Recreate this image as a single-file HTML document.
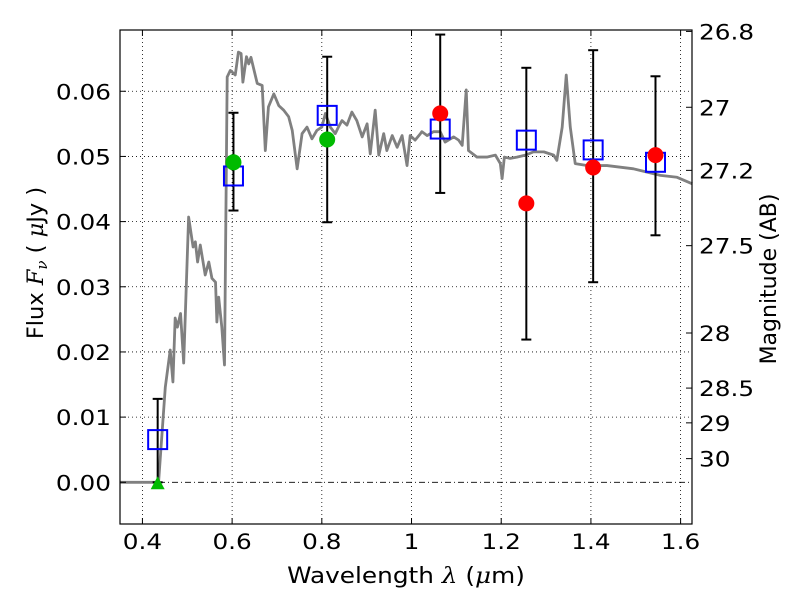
<!DOCTYPE html>
<html><head><meta charset="utf-8"><style>
body{margin:0;background:#fff}
svg{display:block;font-family:"DejaVu Sans","Liberation Sans",sans-serif}
</style></head><body>
<svg id="c" width="800" height="600"></svg>
<script>
const xTicks=[0.4,0.6,0.8,1.0,1.2,1.4,1.6];
const xTickLabels=["0.4","0.6","0.8","1","1.2","1.4","1.6"];
const yTicks=[0,0.01,0.02,0.03,0.04,0.05,0.06];
const yTickLabels=["0.00","0.01","0.02","0.03","0.04","0.05","0.06"];
const magTicks=[26.8,27,27.2,27.5,28,28.5,29,30];
const magTickLabels=["26.8","27","27.2","27.5","28","28.5","29","30"];
const specLam=[0.35,0.436,0.451,0.462,0.468,0.473,0.478,0.485,0.492,0.503,0.513,0.518,0.523,0.529,0.540,0.548,0.555,0.563,0.566,0.570,0.577,0.583,0.589,0.596,0.607,0.614,0.620,0.624,0.632,0.637,0.642,0.656,0.667,0.674,0.681,0.693,0.704,0.715,0.726,0.734,0.745,0.756,0.767,0.778,0.789,0.800,0.808,0.819,0.830,0.837,0.845,0.856,0.867,0.878,0.890,0.901,0.908,0.919,0.927,0.938,0.945,0.957,0.968,0.979,0.990,0.997,1.008,1.020,1.023,1.035,1.049,1.064,1.075,1.094,1.105,1.113,1.122,1.127,1.146,1.168,1.187,1.198,1.202,1.207,1.220,1.235,1.254,1.272,1.295,1.317,1.324,1.336,1.345,1.354,1.365,1.391,1.436,1.495,1.555,1.592,1.626];
const specFlux=[0,0,0.0146,0.0203,0.0154,0.0252,0.0238,0.0259,0.0183,0.0407,0.0361,0.0369,0.0338,0.0364,0.0318,0.0338,0.0313,0.0307,0.0246,0.0284,0.0238,0.0180,0.0622,0.0632,0.0625,0.0660,0.0658,0.0614,0.0653,0.0642,0.0652,0.0612,0.0609,0.0509,0.0576,0.0596,0.0578,0.0571,0.0561,0.0540,0.0481,0.0535,0.0545,0.0527,0.0540,0.0545,0.0566,0.0545,0.0535,0.0545,0.0555,0.0548,0.0568,0.0555,0.0530,0.0550,0.0504,0.0571,0.0502,0.0535,0.0509,0.0532,0.0514,0.0532,0.0486,0.0532,0.0525,0.0535,0.0538,0.0532,0.0538,0.0538,0.0522,0.0530,0.0525,0.0517,0.0602,0.0509,0.0499,0.0499,0.0502,0.0489,0.0466,0.0499,0.0497,0.0499,0.0502,0.0507,0.0507,0.0502,0.0494,0.0545,0.0625,0.0545,0.0489,0.0486,0.0486,0.0481,0.0471,0.0468,0.0458];
const bandLam=[0.434,0.603,0.812,1.064,1.256,1.405,1.544];
const modelFlux=[0.00655,0.0470,0.0563,0.0542,0.0525,0.0510,0.0491];
const errLow=[0,0.0417,0.0399,0.0444,0.0219,0.0307,0.0379];
const errHigh=[0.0128,0.0567,0.0653,0.0687,0.0636,0.0663,0.0623];
const greenLam=[0.603,0.812];
const greenFlux=[0.0491,0.0526];
const redLam=[1.064,1.256,1.405,1.544];
const redFlux=[0.0566,0.0428,0.0483,0.0502];
const limLam=[0.434];
const limFlux=[0];

const L=120,R=692,T=30,B=524;
const xMin=0.35,xMax=1.6254,yMin=-0.0064,yMax=0.0694;
const X=v=>L+(v-xMin)/(xMax-xMin)*(R-L);
const Y=v=>B-(v-yMin)/(yMax-yMin)*(B-T);
const magY=m=>Y(Math.pow(10,(23.9-m)/2.5));
const svg=document.getElementById('c');
const NS='http://www.w3.org/2000/svg';
function mk(tag,a,p){const e=document.createElementNS(NS,tag);for(const k in a)e.setAttribute(k,a[k]);(p||svg).appendChild(e);return e;}
function stretch(t,f){try{const w=t.getComputedTextLength();t.setAttribute('textLength',w*f);t.setAttribute('lengthAdjust','spacingAndGlyphs');}catch(e){}}

xTicks.forEach(v=>{const e=mk('line',{x1:X(v),x2:X(v),y1:T,y2:B,stroke:'#000','stroke-width':0.8,'stroke-dasharray':'1,3'});

});
yTicks.forEach(v=>{if(v===0)return;const e=mk('line',{x1:L,x2:R,y1:Y(v),y2:Y(v),stroke:'#000','stroke-width':0.8,'stroke-dasharray':'1,3'});

});
const zl=mk('line',{x1:L,x2:R,y1:Y(0),y2:Y(0),stroke:'#000','stroke-width':0.8,'stroke-dasharray':'6,3,1,3'});



const sp=mk('polyline',{points:specLam.map((l,i)=>X(l)+','+Y(specFlux[i])).join(' '),fill:'none',stroke:'#808080','stroke-width':2.8,'stroke-linejoin':'round'});



bandLam.forEach((l,i)=>{const g=mk('g',{stroke:'#000','stroke-width':2});


mk('line',{x1:X(l),x2:X(l),y1:Y(errLow[i]),y2:Y(errHigh[i])},g);
mk('line',{x1:X(l)-5,x2:X(l)+5,y1:Y(errLow[i]),y2:Y(errLow[i])},g);
mk('line',{x1:X(l)-5,x2:X(l)+5,y1:Y(errHigh[i]),y2:Y(errHigh[i])},g);});

bandLam.forEach((l,i)=>{const e=mk('rect',{x:X(l)-9.5,y:Y(modelFlux[i])-9.5,width:19,height:19,fill:'none',stroke:'#0000ff','stroke-width':2});

});
greenLam.forEach((l,i)=>{const e=mk('circle',{cx:X(l),cy:Y(greenFlux[i]),r:8,fill:'#00bb00'});

});
redLam.forEach((l,i)=>{const e=mk('circle',{cx:X(l),cy:Y(redFlux[i]),r:8,fill:'#ff0000'});

});
limLam.forEach((l,i)=>{const x=X(l),y=Y(limFlux[i]);const e=mk('polygon',{points:`${x-7},${y+7} ${x+7},${y+7} ${x},${y-6}`,fill:'#00bb00'});

});

const fr=mk('rect',{x:L,y:T,width:R-L,height:B-T,fill:'none',stroke:'#000','stroke-width':1.2});



const TF=1.15;
xTicks.forEach((v,i)=>{mk('line',{x1:X(v),x2:X(v),y1:B,y2:B-6,stroke:'#000'});mk('line',{x1:X(v),x2:X(v),y1:T,y2:T+6,stroke:'#000'});
const t=mk('text',{x:X(v),y:B+25,'font-size':21.5,'text-anchor':'middle'});t.textContent=xTickLabels[i];


stretch(t,TF);});
yTicks.forEach((v,i)=>{mk('line',{x1:L,x2:L+6,y1:Y(v),y2:Y(v),stroke:'#000'});
const t=mk('text',{x:L-9,y:Y(v)+8,'font-size':21.5,'text-anchor':'end'});t.textContent=yTickLabels[i];


stretch(t,TF);});
magTicks.forEach((m,i)=>{const y=magY(m);mk('line',{x1:R,x2:R-6,y1:y,y2:y,stroke:'#000'});
const t=mk('text',{x:R+7,y:y+8,'font-size':21.5});t.textContent=magTickLabels[i];


stretch(t,TF);});

const xt=mk('text',{x:406,y:583,'font-size':22.5,'text-anchor':'middle'});
xt.innerHTML='Wavelength  <tspan font-family="DejaVu Serif" font-style="italic">λ</tspan> (<tspan font-family="DejaVu Serif" font-style="italic">μ</tspan>m)';


stretch(xt,1.1);
const yt=mk('text',{x:0,y:0,'font-size':22.5,'text-anchor':'middle',transform:'translate(43,263) rotate(-90)'});
yt.innerHTML='Flux  <tspan font-family="DejaVu Serif" font-style="italic">F<tspan font-size="15" dy="4">ν</tspan></tspan><tspan dy="-4">  ( </tspan><tspan font-family="DejaVu Serif" font-style="italic">μ</tspan>Jy )';


const rt=mk('text',{x:0,y:0,'font-size':22,'text-anchor':'middle',transform:'translate(776,279) rotate(-90)'});
rt.textContent='Magnitude (AB)';


</script>
</body></html>
